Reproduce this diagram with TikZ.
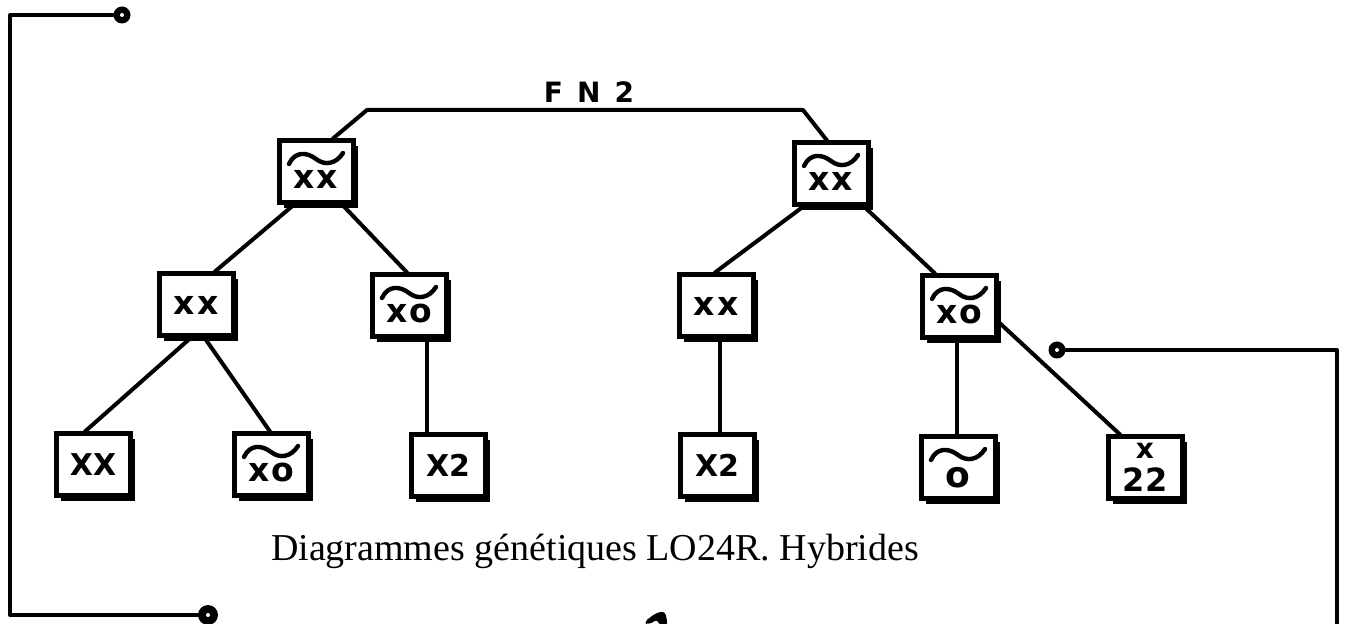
\documentclass[tikz,border=0pt]{standalone}
\usepackage{fontspec}
\setmainfont{Liberation Serif}
\newfontfamily\hand{DejaVu Sans}
\usetikzlibrary{calc,shadows}
\newcommand\drawtilde[1]{\draw[tildeln] ($(#1.center)+(-27,-8)$) .. controls ($(#1.center)+(-21,-21)$) and ($(#1.center)+(-9,-20)$) .. ($(#1.center)+(0,-13)$) .. controls ($(#1.center)+(9,-6)$) and ($(#1.center)+(20,-8)$) .. ($(#1.center)+(27,-19)$);}
\begin{document}
\begin{tikzpicture}[x=0.5pt,y=-0.5pt,
  conn/.style={line width=2pt, line cap=round, line join=round},
  gbox/.style={draw, line width=2.5pt, fill=white, minimum width=37pt, minimum height=31pt,
    inner sep=0pt, text height=4pt, text depth=4pt,
    font=\hand\bfseries\fontsize{16.5}{16.5}\selectfont,
    general shadow={fill=black, shadow xshift=2.6pt, shadow yshift=-2.6pt}},
  tildeln/.style={line width=2.2pt, line cap=round},
  dotc/.style={circle, fill=black, minimum size=8.5pt, inner sep=0pt,
    path picture={\fill[white] (path picture bounding box.center) circle (1pt);}}
]
\useasboundingbox (0,0) rectangle (1349,624);

% boxes
\node[gbox] (L1a) at (316,172) {\raisebox{-8.5pt}{x\kern1pt x}};
\node[gbox] (L1b) at (831,174) {\raisebox{-8.5pt}{x\kern1pt x}};
\node[gbox] (L2a) at (196,305) {\raisebox{-4.8pt}{x\kern1.5pt x}};
\node[gbox] (L2b) at (409,306) {\raisebox{-8.5pt}{x\kern1pt o}};
\node[gbox] (L2c) at (716,306) {\raisebox{-4.8pt}{x\kern1.5pt x}};
\node[gbox] (L2d) at (959,307) {\raisebox{-8.5pt}{x\kern1pt o}};
\node[gbox] (L3a) at (93,465) {\raisebox{-5.5pt}{\fontsize{15}{15}\selectfont XX}};
\node[gbox] (L3b) at (271,465) {\raisebox{-8.5pt}{x\kern1pt o}};
\node[gbox] (L3c) at (448,466) {\raisebox{-5.5pt}{\fontsize{15}{15}\selectfont X2}};
\node[gbox] (L3d) at (717,466) {\raisebox{-5.5pt}{\fontsize{15}{15}\selectfont X2}};
\node[gbox] (L3e) at (958,468) {\raisebox{-10pt}{\fontsize{18}{18}\selectfont o}};
\node[gbox] (L3f) at (1145,468) {\raisebox{-12pt}{\shortstack{{\fontsize{14}{14}\selectfont x}\\[2pt]{\fontsize{16}{16}\selectfont 22}}}};

\drawtilde{L1a}
\drawtilde{L1b}
\drawtilde{L2b}
\drawtilde{L2d}
\drawtilde{L3b}
\drawtilde{L3e}

% FN2
\node[font=\hand\bfseries\fontsize{14}{14}\selectfont, inner sep=0pt] (fn) at (589,92) {F\kern7pt N\kern7pt 2};
\coordinate (fa) at (367,110);
\coordinate (fb) at (803,110);
\draw[conn] ($(L1a.north)+(17,0)$) -- (fa) -- (fb) -- ($(L1b.north)+(-4,0)$);

% connectors
\draw[conn] ($(L1a.south)+(-23,0)$) -- ($(L2a.north)+(19,0)$);
\draw[conn] ($(L1a.south)+(27,0)$) -- ($(L2b.north)+(-2,0)$);
\draw[conn] ($(L1b.south)+(-29,0)$) -- ($(L2c.north)+(-1,0)$);
\draw[conn] ($(L1b.south)+(34,0)$) -- ($(L2d.north)+(-24,0)$);
\draw[conn] ($(L2a.south)+(-6,0)$) -- ($(L3a.north)+(-8,0)$);
\draw[conn] ($(L2a.south)+(9,0)$) -- ($(L3b.north)+(-1,0)$);
\draw[conn] ($(L2b.south)+(18,0)$) -- ($(L3c.north)+(-21,0)$);
\draw[conn] ($(L2c.south)+(4,0)$) -- ($(L3d.north)+(3,0)$);
\draw[conn] ($(L2d.south)+(-2,0)$) -- ($(L3e.north)+(-1,0)$);
\draw[conn] ($(L2d.east)+(0,15)$) -- ($(L3f.north)+(-25,0)$);

% brackets
\node[dotc] (c1) at (122,15) {};
\node[dotc, minimum size=10pt] (c2) at (208,615) {};
\node[dotc] (c3) at (1057,350) {};
\coordinate (k1) at (10,15);
\coordinate (k2) at (10,615);
\coordinate (k3) at (1337,350);
\coordinate (k4) at (1337,630);
\draw[conn] (c1) -- (k1) -- (k2) -- (c2);
\draw[conn] (c3) -- (k3) -- (k4);

% caption
\node[anchor=base, font=\fontsize{19}{21}\selectfont, inner sep=0pt] (cap) at (595,560) {Diagrammes génétiques LO24R. Hybrides};

% cut-off mark at the bottom edge
\fill[rounded corners=2pt] (644,622) -- (656,613) -- (665,611) -- (668,626) -- (659,626) -- (658,619) -- (648,625) -- cycle;
\end{tikzpicture}
\end{document}
